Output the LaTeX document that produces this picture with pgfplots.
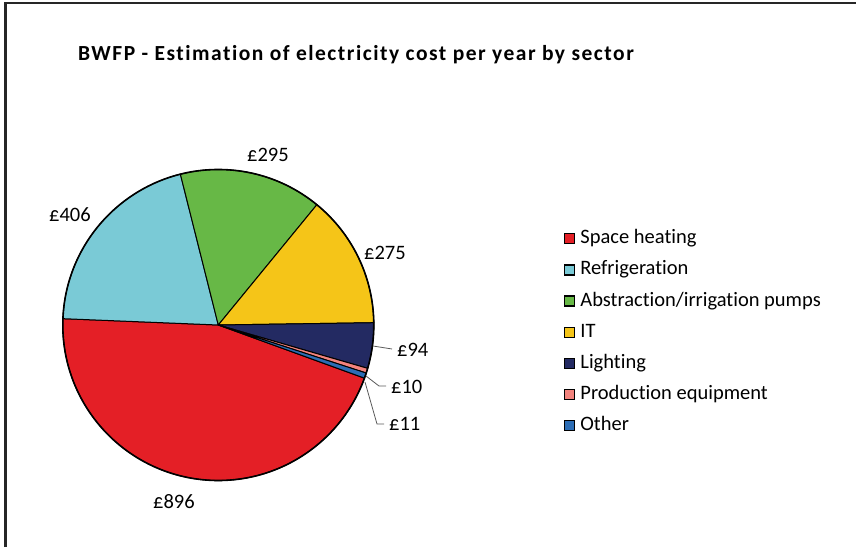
\documentclass[border=0pt]{standalone}
\usepackage{pgfplots}
\usepackage{pgfplotstable}
\pgfplotsset{compat=1.18}
\usepackage{fontspec}
\setmainfont{Carlito}[Ligatures=NoCommon]
\newfontfamily\titlefont{Carlito}[LetterSpace=7,Ligatures=NoCommon]
\definecolor{cSH}{HTML}{E41F26}
\definecolor{cRef}{HTML}{7ACAD6}
\definecolor{cAbs}{HTML}{67B846}
\definecolor{cIT}{HTML}{F5C518}
\definecolor{cLight}{HTML}{232A62}
\definecolor{cProd}{HTML}{F2837D}
\definecolor{cOther}{HTML}{2C6DB5}
\definecolor{leader}{HTML}{5A5A5A}
\pgfplotstableread{
value color
896 cSH
406 cRef
295 cAbs
275 cIT
94 cLight
10 cProd
11 cOther
}\piedata
\begin{document}
\begin{tikzpicture}
\pgfmathsetmacro\total{0}
\pgfplotsforeachungrouped \i in {0,...,6}{%
  \pgfplotstablegetelem{\i}{value}\of\piedata
  \pgfmathsetmacro\total{\total+\pgfplotsretval}%
}
\begin{axis}[x=1pt,y=1pt,xmin=0,xmax=856,ymin=0,ymax=547,
  hide axis,scale only axis,clip=false,at={(0,0)},anchor=south west,
  legend image code/.code={\draw[#1,draw=black,line width=1.2pt] (0pt,-5pt) rectangle (10pt,5pt);},
  legend cell align=left,
  legend style={at={(axis cs:563.5,317.4)},anchor=north west,draw=none,fill=none,
    inner sep=0pt,font=\fontsize{20.5}{23}\selectfont,row sep=13.1pt,
    nodes={inner sep=0pt,text height=14pt,text depth=4pt},
    /tikz/every odd column/.append style={column sep=5.5pt}},
]
\coordinate (BL) at (axis cs:0,0);
\coordinate (TR) at (axis cs:856,547);
\addlegendimage{fill=cSH}\addlegendentry{Space heating}
\addlegendimage{fill=cRef}\addlegendentry{Refrigeration}
\addlegendimage{fill=cAbs}\addlegendentry{Abstraction/irrigation pumps}
\addlegendimage{fill=cIT}\addlegendentry{IT}
\addlegendimage{fill=cLight}\addlegendentry{Lighting}
\addlegendimage{fill=cProd}\addlegendentry{Production equipment}
\addlegendimage{fill=cOther}\addlegendentry{Other}
% frame
\draw[line width=2.2pt,black!85] (axis cs:5.5,0) -- (axis cs:5.5,544) -- (axis cs:856,544);
% pie slices from data
\def\startang{-20}
\pgfplotsforeachungrouped \i in {0,...,6}{%
  \pgfplotstablegetelem{\i}{value}\of\piedata
  \pgfmathsetmacro\sweep{\pgfplotsretval/\total*360}%
  \pgfmathsetmacro\endang{\startang-\sweep}%
  \pgfplotstablegetelem{\i}{color}\of\piedata
  \edef\temp{\noexpand\filldraw[fill=\pgfplotsretval,draw=black,line width=1pt,line join=round] (axis cs:218.3,222) -- ++(\startang:155.5pt) arc[start angle=\startang,end angle=\endang,radius=155.5pt] -- cycle;}%
  \temp
  \global\let\startang\endang
}
\draw[line width=1.6pt] (axis cs:218.3,222) circle[radius=155.5pt];
% title
\node[anchor=base west,inner sep=0pt,font=\titlefont\bfseries\fontsize{21.5}{25}\selectfont] at (axis cs:78,486) {BWFP - Estimation of electricity cost per year by sector};
% data labels
\begin{scope}[every node/.style={anchor=base west,inner sep=0pt,font=\fontsize{20.5}{23}\selectfont}]
\node at (axis cs:153,39) {£896};
\node at (axis cs:49,326) {£406};
\node at (axis cs:247,385) {£295};
\node at (axis cs:364,288) {£275};
\node at (axis cs:397,191) {£94};
\node at (axis cs:391,154) {£10};
\node at (axis cs:389,117) {£11};
\end{scope}
\draw[leader,line width=0.8pt] (axis cs:373,201) -- (axis cs:392,198);
\draw[leader,line width=0.8pt] (axis cs:366,171) -- (axis cs:379,161) -- (axis cs:386,161);
\draw[leader,line width=0.8pt] (axis cs:365,165) -- (axis cs:377,123) -- (axis cs:384,123);
\end{axis}
\pgfresetboundingbox
\useasboundingbox (BL) rectangle (TR);
\end{tikzpicture}
\end{document}
